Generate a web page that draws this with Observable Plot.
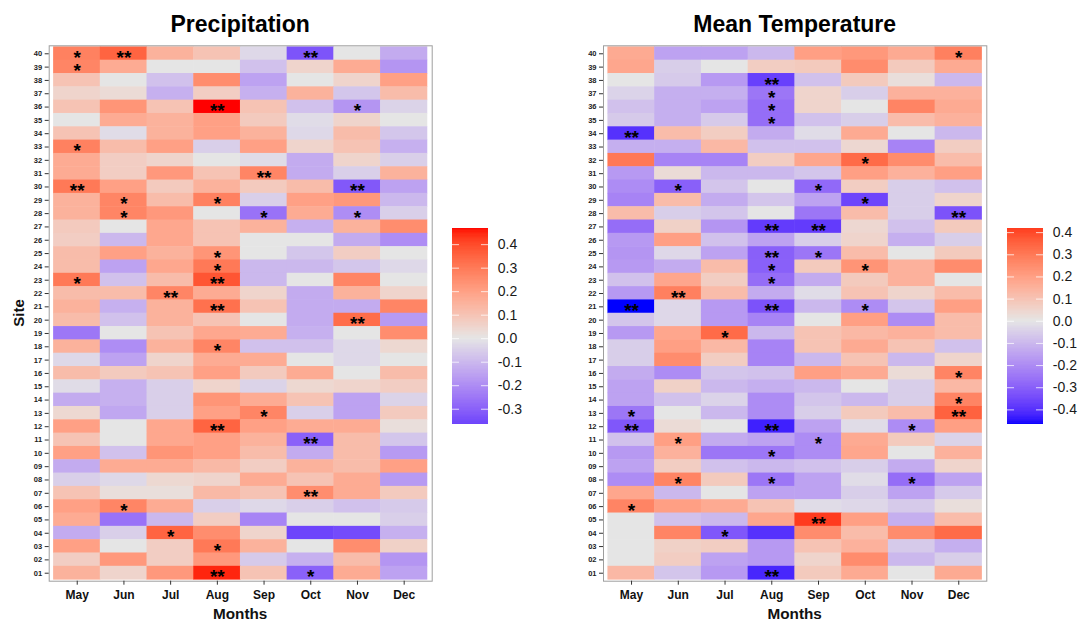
<!DOCTYPE html>
<html><head><meta charset="utf-8">
<script src="https://cdn.jsdelivr.net/npm/d3@7"></script>
<script src="https://cdn.jsdelivr.net/npm/@observablehq/plot@0.6"></script>
<style>
body{margin:0;background:#fff;}
#wrap{position:relative;width:1081px;height:623px;overflow:hidden;background:#fff;}
#wrap > svg{position:absolute;}
</style></head><body><div id="wrap"></div>
<script>
const months = ["May","Jun","Jul","Aug","Sep","Oct","Nov","Dec"];
const sites = ["40","39","38","37","36","35","34","33","32","31","30","29","28","27","26","25","24","23","22","21",
               "20","19","18","17","16","15","14","13","12","11","10","09","08","07","06","05","04","03","02","01"];

// Precipitation correlations, rows = sites (40 -> 01), columns = months (May -> Dec)
const precipValues = [
  [0.28, 0.35, 0.15, 0.10, -0.03, -0.33, 0.00, -0.13],
  [0.27, 0.17, 0.00, 0.00, -0.08, 0.05, 0.17, -0.18],
  [0.10, 0.00, -0.08, 0.25, -0.15, 0.00, 0.05, 0.20],
  [0.05, 0.03, -0.12, 0.07, -0.12, 0.15, -0.07, 0.12],
  [0.10, 0.23, 0.10, 0.47, 0.10, -0.08, -0.18, -0.04],
  [0.00, 0.17, 0.15, 0.20, 0.08, -0.02, 0.05, 0.00],
  [0.10, -0.02, 0.15, 0.20, 0.15, -0.03, 0.12, -0.07],
  [0.28, 0.12, 0.20, -0.05, 0.20, 0.05, 0.10, -0.12],
  [0.17, 0.07, 0.05, 0.00, -0.02, -0.13, 0.05, -0.05],
  [0.17, 0.07, 0.22, 0.10, 0.27, -0.13, -0.05, 0.15],
  [0.30, 0.20, 0.08, 0.15, 0.08, 0.12, -0.32, -0.15],
  [0.15, 0.27, 0.12, 0.28, -0.05, 0.20, 0.22, -0.10],
  [0.15, 0.27, 0.22, 0.00, -0.26, 0.17, -0.20, -0.05],
  [0.08, 0.00, 0.18, 0.10, 0.15, -0.12, 0.15, 0.25],
  [0.07, -0.10, 0.18, 0.10, 0.00, 0.00, -0.13, -0.20],
  [0.12, 0.20, 0.15, 0.23, 0.00, -0.07, 0.07, 0.00],
  [0.12, -0.15, 0.18, 0.30, -0.10, -0.10, -0.07, -0.03],
  [0.30, -0.08, 0.12, 0.38, -0.10, 0.00, 0.27, 0.00],
  [0.12, 0.12, 0.27, 0.17, 0.05, -0.13, 0.15, 0.05],
  [0.15, -0.12, 0.15, 0.32, 0.10, -0.13, -0.13, 0.27],
  [0.12, -0.08, 0.15, 0.10, 0.00, -0.13, 0.33, -0.17],
  [-0.25, 0.00, 0.10, 0.18, 0.17, -0.12, 0.00, 0.25],
  [0.15, -0.20, 0.15, 0.27, -0.08, -0.08, -0.03, 0.04],
  [-0.03, -0.15, 0.05, 0.17, 0.17, 0.00, -0.03, 0.00],
  [0.12, 0.08, 0.10, 0.20, 0.08, 0.17, 0.00, 0.12],
  [-0.02, -0.12, -0.05, 0.05, -0.04, 0.04, 0.05, 0.07],
  [-0.13, -0.12, -0.05, 0.23, 0.17, 0.10, -0.15, -0.04],
  [0.04, -0.14, -0.05, 0.20, 0.27, -0.05, -0.15, 0.08],
  [0.20, 0.00, 0.18, 0.35, 0.20, 0.17, 0.17, 0.02],
  [0.10, 0.00, 0.18, 0.20, 0.15, -0.30, 0.12, -0.07],
  [0.20, -0.08, 0.23, 0.20, 0.12, -0.13, 0.12, -0.17],
  [-0.13, 0.17, 0.17, 0.13, 0.07, 0.15, 0.12, 0.20],
  [-0.05, -0.03, 0.04, 0.05, 0.17, 0.10, 0.17, -0.17],
  [0.10, 0.02, 0.02, 0.13, 0.10, 0.25, 0.17, 0.08],
  [0.20, 0.27, 0.17, -0.05, -0.03, -0.05, -0.08, -0.06],
  [0.17, -0.26, -0.10, 0.07, -0.22, 0.00, 0.00, -0.05],
  [-0.13, -0.05, 0.35, 0.25, 0.05, -0.365, -0.35, -0.12],
  [0.20, 0.00, 0.07, 0.30, 0.15, 0.00, 0.25, 0.06],
  [0.07, 0.22, 0.07, 0.22, -0.06, -0.12, 0.12, -0.18],
  [0.15, 0.05, 0.22, 0.45, 0.10, -0.30, 0.17, -0.15]
];

// Mean temperature correlations, rows = sites (40 -> 01), columns = months (May -> Dec)
const tempValues = [
  [0.17, -0.15, -0.15, -0.10, 0.20, 0.22, 0.17, 0.28],
  [0.18, -0.05, 0.00, 0.07, 0.08, 0.25, 0.08, 0.17],
  [0.00, -0.06, -0.17, -0.37, -0.08, 0.08, 0.02, -0.10],
  [-0.04, -0.12, -0.12, -0.25, 0.05, -0.05, 0.15, 0.15],
  [-0.08, -0.12, -0.15, -0.27, 0.05, 0.00, 0.27, 0.17],
  [-0.06, -0.12, -0.06, -0.27, -0.08, -0.05, 0.12, 0.15],
  [-0.40, 0.12, 0.07, -0.13, -0.02, 0.17, 0.00, -0.10],
  [-0.12, -0.12, 0.13, -0.08, -0.08, 0.04, -0.22, 0.07],
  [0.30, -0.22, -0.22, 0.07, 0.18, 0.33, 0.25, 0.12],
  [-0.17, 0.03, -0.10, -0.10, -0.07, 0.20, 0.15, 0.20],
  [-0.20, -0.30, -0.07, 0.00, -0.28, 0.07, -0.05, -0.08],
  [-0.22, 0.12, -0.13, -0.07, -0.15, -0.36, -0.05, 0.05],
  [0.12, -0.05, -0.07, 0.00, -0.25, 0.12, -0.05, -0.33],
  [-0.27, 0.06, -0.18, -0.38, -0.38, 0.04, -0.08, 0.08],
  [-0.17, 0.20, -0.08, -0.15, -0.05, 0.05, -0.12, -0.05],
  [-0.18, -0.03, -0.15, -0.30, -0.25, 0.12, 0.00, 0.08],
  [-0.17, -0.13, 0.12, -0.30, 0.08, 0.23, 0.15, 0.25],
  [-0.08, 0.18, 0.07, -0.27, -0.13, 0.08, 0.15, 0.00],
  [-0.17, 0.28, 0.12, -0.13, -0.02, 0.10, 0.05, 0.12],
  [-0.466, -0.03, -0.17, -0.33, -0.10, -0.20, -0.07, 0.20],
  [-0.07, -0.03, -0.17, -0.22, 0.00, 0.20, -0.20, 0.12],
  [-0.17, 0.18, 0.33, -0.10, 0.10, 0.13, 0.15, 0.12],
  [-0.05, 0.20, 0.13, -0.22, 0.10, 0.17, 0.10, -0.08],
  [-0.05, 0.25, 0.07, -0.22, -0.10, 0.10, -0.10, 0.05],
  [-0.13, -0.20, -0.07, -0.08, 0.20, 0.17, 0.03, 0.27],
  [-0.15, 0.06, -0.10, -0.12, -0.10, 0.00, -0.05, 0.13],
  [-0.15, -0.08, -0.04, -0.20, -0.07, -0.10, -0.05, 0.27],
  [-0.25, 0.00, -0.10, -0.20, -0.05, 0.08, 0.12, 0.35],
  [-0.32, 0.03, 0.00, -0.43, -0.15, -0.02, -0.20, 0.20],
  [-0.08, 0.20, -0.13, -0.15, -0.20, 0.17, 0.08, -0.04],
  [-0.17, 0.15, -0.25, -0.25, -0.20, 0.18, 0.00, 0.15],
  [-0.15, 0.07, -0.08, -0.10, -0.08, -0.05, -0.13, 0.05],
  [-0.20, 0.27, 0.08, -0.25, -0.15, -0.02, -0.27, -0.15],
  [0.18, -0.10, 0.00, -0.15, -0.15, -0.05, -0.15, -0.06],
  [0.27, 0.20, 0.17, 0.10, -0.02, -0.03, -0.06, 0.02],
  [0.00, -0.08, -0.10, 0.18, 0.42, 0.20, -0.12, 0.12],
  [0.00, 0.27, -0.32, -0.40, 0.25, 0.12, 0.25, 0.33],
  [0.00, 0.06, 0.07, -0.17, 0.10, 0.15, -0.06, -0.12],
  [0.00, 0.07, -0.15, -0.17, 0.05, 0.25, -0.10, -0.05],
  [0.13, -0.07, -0.17, -0.42, 0.08, 0.17, 0.00, 0.17]
];

// significance markers: [site, month, label]
const precipStars = [
  ["40","May","*"],["40","Jun","**"],["40","Oct","**"],["39","May","*"],
  ["36","Aug","**"],["36","Nov","*"],["33","May","*"],["31","Sep","**"],
  ["30","May","**"],["30","Nov","**"],["29","Jun","*"],["29","Aug","*"],
  ["28","Jun","*"],["28","Sep","*"],["28","Nov","*"],["25","Aug","*"],["24","Aug","*"],
  ["23","May","*"],["23","Aug","**"],["22","Jul","**"],["21","Aug","**"],["20","Nov","**"],
  ["18","Aug","*"],["13","Sep","*"],["12","Aug","**"],["11","Oct","**"],
  ["07","Oct","**"],["06","Jun","*"],["04","Jul","*"],["03","Aug","*"],
  ["01","Aug","**"],["01","Oct","*"]
];
const tempStars = [
  ["40","Dec","*"],["38","Aug","**"],["37","Aug","*"],["36","Aug","*"],["35","Aug","*"],
  ["34","May","**"],["32","Oct","*"],["30","Jun","*"],["30","Sep","*"],["29","Oct","*"],
  ["28","Dec","**"],["27","Aug","**"],["27","Sep","**"],["25","Aug","**"],["25","Sep","*"],
  ["24","Aug","*"],["24","Oct","*"],["23","Aug","*"],["22","Jun","**"],
  ["21","May","**"],["21","Aug","**"],["21","Oct","*"],["19","Jul","*"],
  ["16","Dec","*"],["14","Dec","*"],["13","May","*"],["13","Dec","**"],
  ["12","May","**"],["12","Aug","**"],["12","Nov","*"],["11","Jun","*"],["11","Sep","*"],
  ["10","Aug","*"],["08","Jun","*"],["08","Aug","*"],["08","Nov","*"],["06","May","*"],
  ["05","Sep","**"],["04","Jul","*"],["01","Aug","**"]
];
const precipLegendTicks = [0.4, 0.3, 0.2, 0.1, 0.0, -0.1, -0.2, -0.3];
const tempLegendTicks = [0.4, 0.3, 0.2, 0.1, 0.0, -0.1, -0.2, -0.3, -0.4];
const titles = ["Precipitation", "Mean Temperature"];

const FONT = '"Liberation Sans", Arial, Helvetica, sans-serif';
const wrap = document.getElementById("wrap");
const colorOpts = ext => ({type: "diverging", pivot: 0, domain: ext,
  range: ["#0000FF", "#E5E5E5", "#FF0000"], interpolate: "lab"});

function heatmap(values, stars, left, mLeft, mRight) {
  const data = [];
  sites.forEach((s, i) => months.forEach((m, j) => data.push({site: s, month: m, value: values[i][j]})));
  const starData = stars.map(([site, month, label]) => ({site, month, label}));
  const ext = d3.extent(data, d => d.value);
  const svg = Plot.plot({
    width: 440, height: 623,
    marginLeft: mLeft, marginRight: mRight, marginTop: 45.3, marginBottom: 42.3,
    style: {fontFamily: FONT, background: "transparent", overflow: "visible"},
    x: {domain: months, paddingInner: 0, paddingOuter: 0.1, round: false, axis: null},
    y: {domain: sites, paddingInner: 0, paddingOuter: 0.1, round: false, axis: null},
    color: colorOpts(ext),
    marks: [
      Plot.cell(data, {x: "month", y: "site", fill: "value", inset: -0.25}),
      Plot.text(starData, {x: "month", y: "site", text: "label", fontSize: 19, fontWeight: "bold", fill: "#000", dy: 4}),
      Plot.frame({stroke: "#9e9e9e", strokeWidth: 1}),
      Plot.axisX({tickSize: 4, tickPadding: 5, fontSize: 12, fontWeight: "bold", label: null, stroke: "#333", fill: "#111"}),
      Plot.axisY({tickSize: 4, tickPadding: 3, fontSize: 7.5, fontWeight: "bold", label: null, stroke: "#333", fill: "#222"})
    ]
  });
  svg.style.left = left + "px";
  svg.style.top = "0px";
  wrap.appendChild(svg);
  return ext;
}

function legend(ext, ticks, left) {
  const [lo, hi] = ext;
  const n = 150;
  const steps = d3.range(n).map(i => {
    const a = lo + (hi - lo) * i / n, b = lo + (hi - lo) * (i + 1) / n;
    return {y1: a, y2: b, v: (a + b) / 2};
  });
  const svg = Plot.plot({
    width: 100, height: 440,
    marginLeft: 11.7, marginRight: 51.7, marginTop: 227.7, marginBottom: 16,
    style: {fontFamily: FONT, background: "transparent", overflow: "visible"},
    x: {domain: [0, 1], axis: null},
    y: {domain: ext, axis: null},
    color: colorOpts(ext),
    marks: [
      Plot.rect(steps, {x1: 0, x2: 1, y1: "y1", y2: "y2", fill: "v", shapeRendering: "crispEdges"}),
      Plot.ruleY(ticks, {x1: 0, x2: 0.2, stroke: "white", strokeOpacity: 0.75}),
      Plot.ruleY(ticks, {x1: 0.8, x2: 1, stroke: "white", strokeOpacity: 0.75}),
      Plot.axisY({ticks: ticks, anchor: "right", tickSize: 0, tickPadding: 9, fontSize: 14,
        tickFormat: d => d.toFixed(1), fill: "#1a1a1a", label: null})
    ]
  });
  svg.style.left = left + "px";
  svg.style.top = "0px";
  wrap.appendChild(svg);
}

const extP = heatmap(precipValues, precipStars, 0, 48.7, 8.3);
legend(extP, precipLegendTicks, 440);
const extT = heatmap(tempValues, tempStars, 555, 48, 8.7);
legend(extT, tempLegendTicks, 995);

// titles and axis titles
const ov = d3.select(wrap).append("svg")
  .attr("width", 1081).attr("height", 623)
  .style("left", "0px").style("top", "0px")
  .style("font-family", FONT);
ov.append("text").attr("x", 240.2).attr("y", 31.7).attr("text-anchor", "middle")
  .attr("font-size", 23).attr("font-weight", "bold").attr("fill", "#000").text(titles[0]);
ov.append("text").attr("x", 794.7).attr("y", 31.7).attr("text-anchor", "middle")
  .attr("font-size", 23).attr("font-weight", "bold").attr("fill", "#000").text(titles[1]);
ov.append("text").attr("x", 240.2).attr("y", 618.7).attr("text-anchor", "middle")
  .attr("font-size", 15.3).attr("font-weight", "bold").attr("fill", "#111").text("Months");
ov.append("text").attr("x", 794.7).attr("y", 618.7).attr("text-anchor", "middle")
  .attr("font-size", 15.3).attr("font-weight", "bold").attr("fill", "#111").text("Months");
ov.append("text").attr("transform", "translate(23.5,313) rotate(-90)").attr("text-anchor", "middle")
  .attr("font-size", 15).attr("font-weight", "bold").attr("fill", "#111").text("Site");
</script></body></html>
